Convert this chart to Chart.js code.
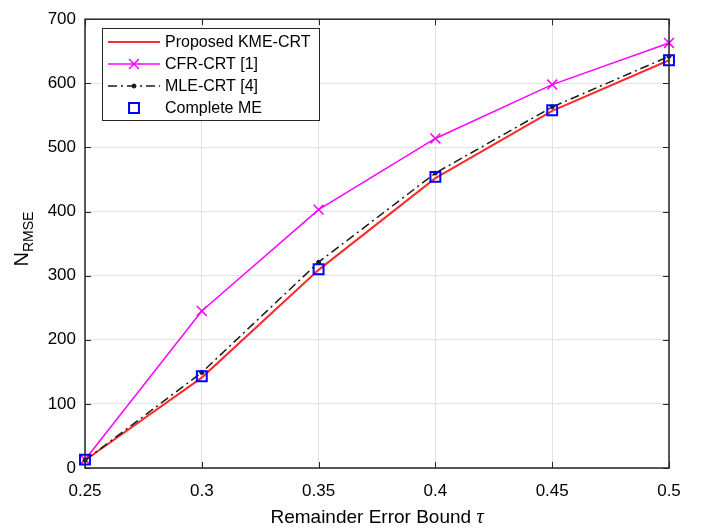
<!DOCTYPE html>
<html>
<head>
<meta charset="utf-8">
<title>NRMSE vs remainder error bound</title>
<script src="https://cdn.jsdelivr.net/npm/chart.js@4"></script>
<style>
  html, body { margin: 0; padding: 0; background: #fff; }
  #wrap { width: 702px; height: 530px; }
</style>
</head>
<body>
<div id="wrap"><canvas id="myChart" width="702" height="530"></canvas></div>
<script>
// data
const tauValues = [0.25, 0.3, 0.35, 0.4, 0.45, 0.5];
const kmeCrt = [12, 141, 309, 452, 557, 636];
const cfrCrt = [13, 245, 403, 514, 598, 663];
const mleCrt = [12, 149, 321, 460, 563, 642];
const completeMe = [13, 143, 310, 454, 558, 636];
const xTicks = [0.25, 0.3, 0.35, 0.4, 0.45, 0.5];
const yTicks = [0, 100, 200, 300, 400, 500, 600, 700];

const font = '"Liberation Sans", Arial, sans-serif';

function pts(ys) {
  return tauValues.map(function (t, i) { return { x: t, y: ys[i] }; });
}

// box, inward ticks, axis titles and legend in matlab style
const matlabFrame = {
  id: "matlabFrame",
  afterDatasetsDraw: function (chart) {
    const ctx = chart.ctx;
    const a = chart.chartArea;
    const xs = chart.scales.x;
    const ys = chart.scales.y;
    ctx.save();
    ctx.strokeStyle = "#262626";
    ctx.lineWidth = 1;
    ctx.beginPath();
    xTicks.forEach(function (v) {
      const px = Math.round(xs.getPixelForValue(v)) + 0.5;
      ctx.moveTo(px, a.bottom); ctx.lineTo(px, a.bottom - 6);
      ctx.moveTo(px, a.top); ctx.lineTo(px, a.top + 6);
    });
    yTicks.forEach(function (v) {
      const py = Math.round(ys.getPixelForValue(v)) + 0.5;
      ctx.moveTo(a.left, py); ctx.lineTo(a.left + 6, py);
      ctx.moveTo(a.right, py); ctx.lineTo(a.right - 6, py);
    });
    ctx.stroke();
    ctx.lineWidth = 1.5;
    ctx.strokeRect(a.left, a.top, a.right - a.left, a.bottom - a.top);

    // legend
    const lx = 102, ly = 28, lw = 217, lh = 92;
    ctx.fillStyle = "#fff";
    ctx.fillRect(lx, ly, lw, lh);
    ctx.lineWidth = 1;
    ctx.strokeStyle = "#262626";
    ctx.strokeRect(lx + 0.5, ly + 0.5, lw, lh);
    ctx.font = "16px " + font;
    ctx.textBaseline = "middle";
    chart.data.datasets.forEach(function (ds, i) {
      const y = 42 + i * 22;
      if (ds.showLine !== false) {
        ctx.save();
        ctx.strokeStyle = ds.borderColor;
        ctx.lineWidth = ds.borderWidth;
        ctx.setLineDash(ds.borderDash || []);
        ctx.beginPath();
        ctx.moveTo(108, y); ctx.lineTo(160, y);
        ctx.stroke();
        ctx.restore();
      }
      if (ds.pointRadius > 0) {
        ctx.save();
        ctx.strokeStyle = ds.pointBorderColor || ds.borderColor;
        ctx.fillStyle = ds.pointBackgroundColor || "rgba(0,0,0,0)";
        ctx.lineWidth = ds.pointBorderWidth || ds.borderWidth;
        ctx.setLineDash([]);
        Chart.helpers.drawPoint(ctx, {
          pointStyle: ds.pointStyle,
          radius: ds.pointRadius,
          borderWidth: ds.pointBorderWidth || ds.borderWidth,
          rotation: 0
        }, 134, y);
        ctx.restore();
      }
      ctx.fillStyle = "#000";
      ctx.fillText(ds.label, 165, y + 1);
    });

    // y axis title with subscript
    ctx.fillStyle = "#000";
    ctx.textBaseline = "alphabetic";
    ctx.translate(28, 239);
    ctx.rotate(-Math.PI / 2);
    ctx.font = "20px " + font;
    const wN = ctx.measureText("N").width;
    ctx.font = "14px " + font;
    const wS = ctx.measureText("RMSE").width;
    const x0 = -(wN + wS) / 2;
    ctx.font = "20px " + font;
    ctx.fillText("N", x0, 0);
    ctx.font = "14px " + font;
    ctx.fillText("RMSE", x0 + wN, 5);
    ctx.restore();

    // x axis title
    ctx.save();
    ctx.fillStyle = "#000";
    ctx.textBaseline = "alphabetic";
    ctx.font = "19px " + font;
    const main = "Remainder Error Bound ";
    const wm = ctx.measureText(main).width;
    ctx.font = "italic 20px \"Liberation Serif\", serif";
    const wt = ctx.measureText("\u03c4").width;
    const cx = (a.left + a.right) / 2 - (wm + wt) / 2;
    ctx.font = "19px " + font;
    ctx.fillText(main, cx, 523);
    ctx.font = "italic 20px \"Liberation Serif\", serif";
    ctx.fillText("\u03c4", cx + wm, 523);
    ctx.restore();
  }
};

const ctx = document.getElementById("myChart");

new Chart(ctx, {
  type: "line",
  data: {
    datasets: [
      {
        label: "Proposed KME-CRT",
        data: pts(kmeCrt),
        borderColor: "#ff2a2a",
        borderWidth: 2,
        pointRadius: 0,
        order: 3,
      },
      {
        label: "CFR-CRT [1]",
        data: pts(cfrCrt),
        borderColor: "#ff00ff",
        borderWidth: 1.5,
        pointStyle: "crossRot",
        pointRadius: 7,
        pointBorderWidth: 1.5,
        order: 2,
      },
      {
        label: "MLE-CRT [4]",
        data: pts(mleCrt),
        borderColor: "#1a1a1a",
        borderWidth: 1.5,
        borderDash: [9, 4, 2, 4],
        pointStyle: "circle",
        pointRadius: 2,
        pointBackgroundColor: "#1a1a1a",
        pointBorderWidth: 1,
        order: 1,
      },
      {
        label: "Complete ME",
        data: pts(completeMe),
        showLine: false,
        borderColor: "#0000ff",
        borderWidth: 2,
        pointStyle: "rect",
        pointRadius: 7,
        pointBorderWidth: 2,
        pointBackgroundColor: "rgba(0,0,0,0)",
        order: 0,
      },
    ],
  },
  options: {
    responsive: false,
    animation: false,
    clip: false,
    layout: { autoPadding: false, padding: { top: 9, right: 33, left: 0, bottom: 0 } },
    elements: { line: { tension: 0 } },
    plugins: { legend: { display: false }, tooltip: { enabled: false } },
    scales: {
      x: {
        type: "linear",
        min: 0.25,
        max: 0.5,
        afterBuildTicks: function (s) { s.ticks = xTicks.map(function (v) { return { value: v }; }); },
        afterFit: function (s) { s.height = 62; },
        ticks: {
          color: "#000",
          padding: 13,
          font: { family: font, size: 17 },
          callback: function (v) { return String(Number(v.toFixed(2))); },
        },
        grid: { color: "#e2e2e2", drawTicks: false },
        border: { display: false },
      },
      y: {
        min: 0,
        max: 700,
        afterBuildTicks: function (s) { s.ticks = yTicks.map(function (v) { return { value: v }; }); },
        afterFit: function (s) { s.width = 85; },
        ticks: {
          color: "#000",
          padding: 9,
          font: { family: font, size: 17 },
        },
        grid: { color: "#e2e2e2", drawTicks: false },
        border: { display: false },
      },
    },
  },
  plugins: [matlabFrame],
});
</script>
</body>
</html>
